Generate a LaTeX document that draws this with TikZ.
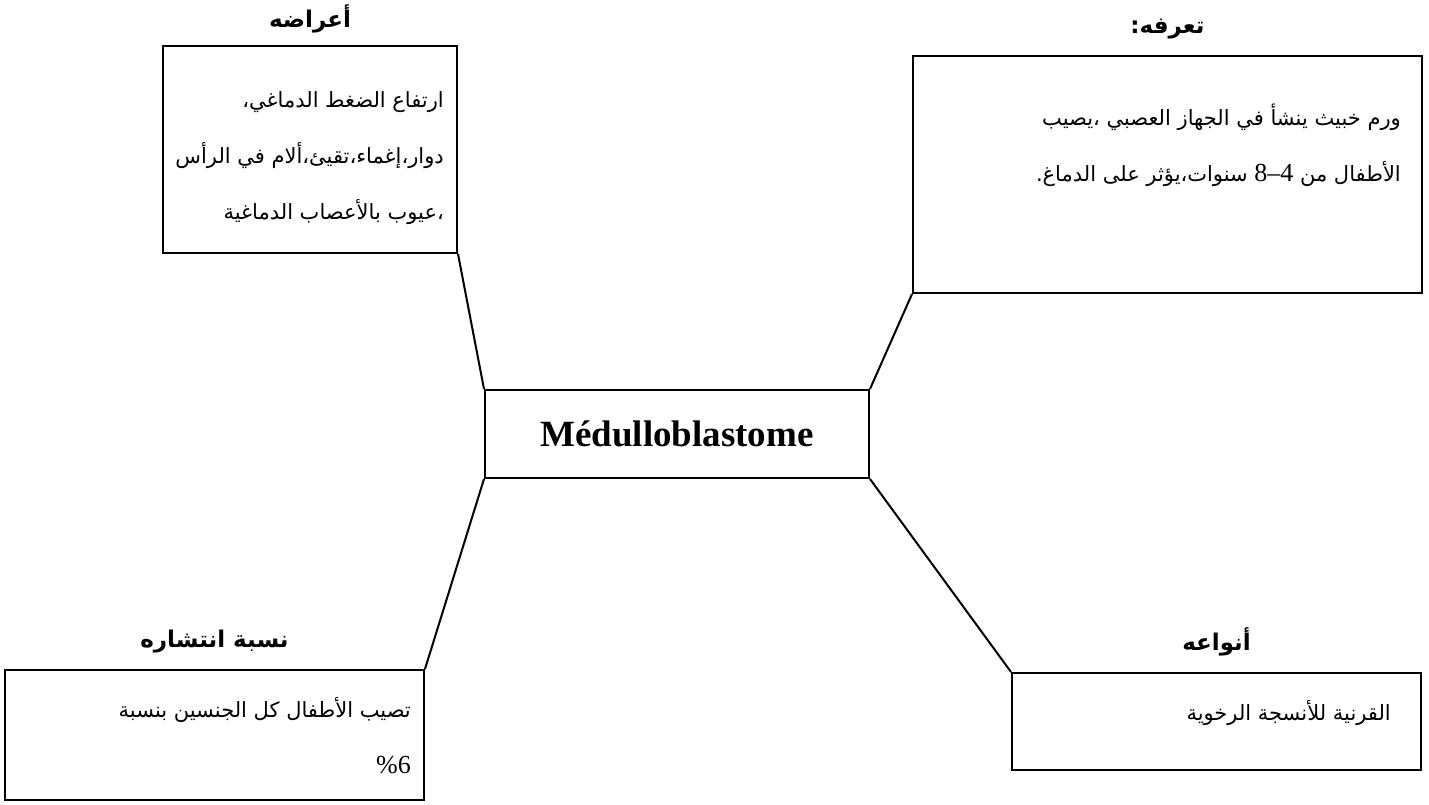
\documentclass[tikz,border=0pt]{standalone}
\usepackage{fontspec}
\setmainfont{Liberation Serif}
\newfontfamily\arabicfont[Script=Arabic]{DejaVu Sans}
\TeXXeTstate=1
\usetikzlibrary{positioning}

\begin{document}
\begin{tikzpicture}[x=1pt, y=-1pt,
    box/.style={draw, line width=2pt, inner sep=0pt},
    link/.style={line width=2pt},
    body/.style={inner sep=0pt, align=right, font=\arabicfont\fontsize{21}{56}\selectfont},
    head/.style={inner sep=0pt, font=\arabicfont\bfseries\fontsize{23}{27}\selectfont}]
    \useasboundingbox (0,0) rectangle (1429,804);

    % Draw the centre box
    \node[box, minimum width=384pt, minimum height=88pt, font=\bfseries\fontsize{37}{44}\selectfont] (med) at (677,434) {Médulloblastome};

    % Draw the outer boxes
    \node[box, minimum width=294pt, minimum height=207pt] (signs) at (310,149.5) {};
    \node[box, minimum width=509pt, minimum height=237pt] (defin) at (1167.5,174.5) {};
    \node[box, minimum width=419pt, minimum height=130pt] (spread) at (214.5,735) {};
    \node[box, minimum width=409pt, minimum height=97pt] (kinds) at (1216.5,721.5) {};

    % Titles
    \node[head, above=12pt of signs] (signshead) {\beginR أعراضه\endR};
    \node[head, above=16pt of defin] (definhead) {\beginR تعرفه:\endR};
    \node[head, above=16pt of spread] (spreadhead) {\beginR نسبة انتشاره\endR};
    \node[head, above=16pt of kinds] (kindshead) {\beginR أنواعه\endR};

    % Texts in the boxes
    \node[body, anchor=north east] (signstext) at ([shift={(-14,46)}]signs.north east)
        {\beginR ارتفاع الضغط الدماغي،\endR\\
         \beginR دوار،إغماء،تقيئ،ألام في الرأس\endR\\
         \beginR ،عيوب بالأعصاب الدماغية\endR};
    \node[body, anchor=north east] (defintext) at ([shift={(-22,49)}]defin.north east)
        {\beginR ورم خبيث ينشأ في الجهاز العصبي ،يصيب\endR\\
         \beginR الأطفال من \mbox{\rmfamily\fontsize{26}{56}\selectfont 8--4} سنوات،يؤثر على الدماغ.\endR};
    \node[body, anchor=north east] (spreadtext) at ([shift={(-14,28)}]spread.north east)
        {\beginR تصيب الأطفال كل الجنسين بنسبة\endR\\
         \mbox{\rmfamily\fontsize{26}{56}\selectfont\%6}};
    \node[body, anchor=north east] (kindstext) at ([shift={(-31,28)}]kinds.north east)
        {\beginR القرنية للأنسجة الرخوية\endR};

    % Connectors
    \draw[link] (signs.south east) -- (med.north west);
    \draw[link] (defin.south west) -- (med.north east);
    \draw[link] (med.south west) -- (spread.north east);
    \draw[link] (med.south east) -- (kinds.north west);
\end{tikzpicture}
\end{document}
